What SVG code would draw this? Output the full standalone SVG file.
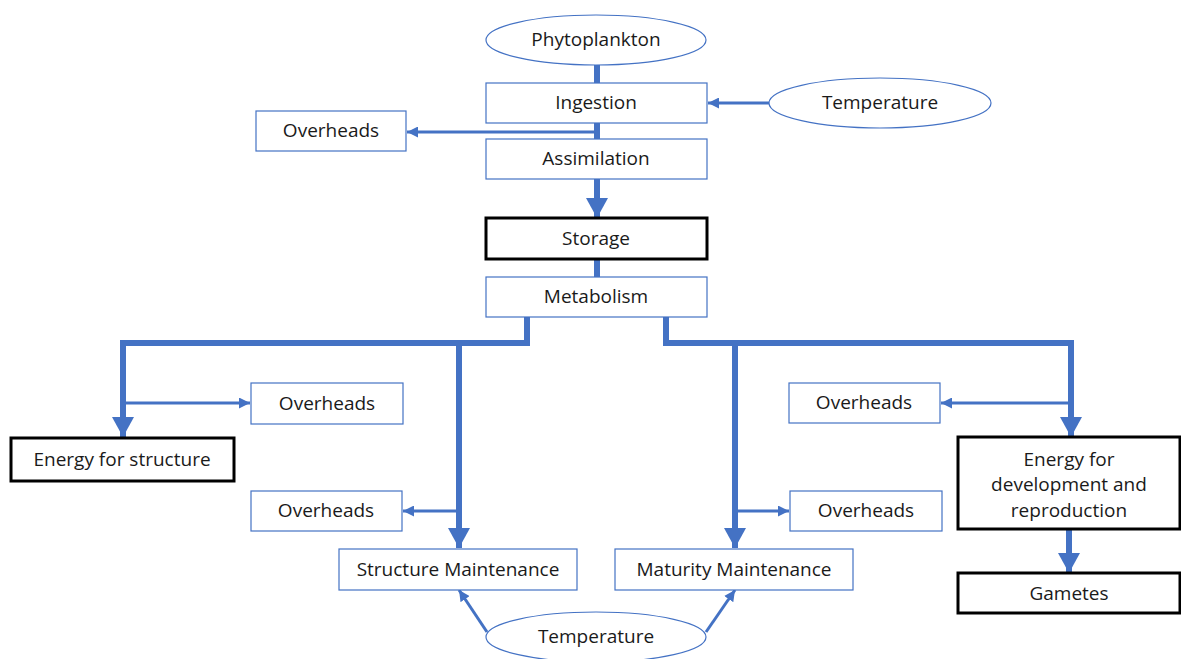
<svg xmlns="http://www.w3.org/2000/svg" width="1181" height="659" viewBox="0 0 1181 659">
<style>
text{font-family:"Open Sans","Liberation Sans",sans-serif;font-size:19px;fill:#1a1a1a;text-anchor:middle;dominant-baseline:central}
.thin{fill:#fff;stroke:#4472C4;stroke-width:1.2}
.bold{fill:#fff;stroke:#000;stroke-width:3}
.ell{fill:#fff;stroke:#4472C4;stroke-width:1.2}
.c6{fill:none;stroke:#4472C4;stroke-width:6}
.c3{fill:none;stroke:#4472C4;stroke-width:3}
</style>
<defs>
<marker id="big" markerUnits="userSpaceOnUse" markerWidth="20" markerHeight="22" viewBox="0 0 20 22" refX="20" refY="11" orient="auto"><path d="M0,0 L20,11 L0,22 z" fill="#4472C4"/></marker>
<marker id="sm" markerUnits="userSpaceOnUse" markerWidth="11" markerHeight="11" viewBox="0 0 11 11" refX="11" refY="5.5" orient="auto"><path d="M0,0 L11,5.5 L0,11 z" fill="#4472C4"/></marker>
</defs>
<g id="connectors">
<path class="c6" d="M597,65 V83"/>
<path class="c3" d="M769,103 H708" marker-end="url(#sm)"/>
<path class="c6" d="M597,123 V139"/>
<path class="c3" d="M597,132 H407" marker-end="url(#sm)"/>
<path class="c6" d="M597,179 V218" marker-end="url(#big)"/>
<path class="c6" d="M597,259 V277"/>
<path class="c6" d="M527,317 V343 H123 V437" marker-end="url(#big)"/>
<path class="c6" d="M459,343 V548" marker-end="url(#big)"/>
<path class="c6" d="M666,317 V343 H1071 V437" marker-end="url(#big)"/>
<path class="c6" d="M735,343 V548" marker-end="url(#big)"/>
<path class="c3" d="M123,403 H250" marker-end="url(#sm)"/>
<path class="c3" d="M1071,403 H941" marker-end="url(#sm)"/>
<path class="c3" d="M459,511 H403" marker-end="url(#sm)"/>
<path class="c3" d="M735,511 H789" marker-end="url(#sm)"/>
<path class="c6" d="M1069,529 V573" marker-end="url(#big)"/>
<path class="c3" d="M487,632 L459,590" marker-end="url(#sm)"/>
<path class="c3" d="M706,632 L735,590" marker-end="url(#sm)"/>
</g>
<g id="phytoplankton"><ellipse class="ell" cx="596" cy="40" rx="110" ry="25"/><text x="596" y="39">Phytoplankton</text></g>
<g id="ingestion"><rect class="thin" x="486" y="83" width="221" height="40"/><text x="596" y="102">Ingestion</text></g>
<g id="temperature-top"><ellipse class="ell" cx="880" cy="103" rx="111" ry="25"/><text x="880" y="102">Temperature</text></g>
<g id="overheads-top"><rect class="thin" x="256" y="111" width="150" height="40"/><text x="331" y="130">Overheads</text></g>
<g id="assimilation"><rect class="thin" x="486" y="139" width="221" height="40"/><text x="596" y="158">Assimilation</text></g>
<g id="storage"><rect class="bold" x="486" y="218" width="221" height="41"/><text x="596" y="238">Storage</text></g>
<g id="metabolism"><rect class="thin" x="486" y="277" width="221" height="40"/><text x="596" y="296">Metabolism</text></g>
<g id="overheads-l1"><rect class="thin" x="251" y="383" width="152" height="41"/><text x="327" y="403">Overheads</text></g>
<g id="energy-structure"><rect class="bold" x="11" y="438" width="223" height="43"/><text x="122" y="459">Energy for structure</text></g>
<g id="overheads-r1"><rect class="thin" x="789" y="383" width="151" height="40"/><text x="864" y="402">Overheads</text></g>
<g id="energy-dev"><rect class="bold" x="958" y="437" width="222" height="92"/><text x="1069" y="459">Energy for</text><text x="1069" y="484">development and</text><text x="1069" y="510">reproduction</text></g>
<g id="overheads-l2"><rect class="thin" x="251" y="491" width="151" height="40"/><text x="326" y="510">Overheads</text></g>
<g id="overheads-r2"><rect class="thin" x="790" y="491" width="152" height="40"/><text x="866" y="510">Overheads</text></g>
<g id="structure-maintenance"><rect class="thin" x="339" y="549" width="238" height="41"/><text x="458" y="569">Structure Maintenance</text></g>
<g id="maturity-maintenance"><rect class="thin" x="615" y="549" width="238" height="41"/><text x="734" y="569">Maturity Maintenance</text></g>
<g id="gametes"><rect class="bold" x="958" y="573" width="222" height="40"/><text x="1069" y="593">Gametes</text></g>
<g id="temperature-bottom"><ellipse class="ell" cx="596" cy="637" rx="110" ry="25"/><text x="596" y="636">Temperature</text></g>
</svg>
